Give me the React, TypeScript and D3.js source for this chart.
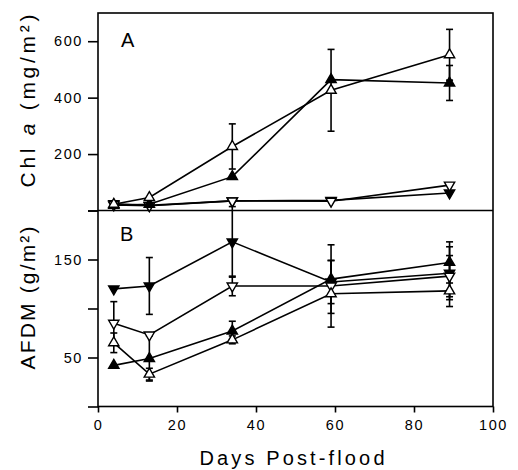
import { useRef, useEffect } from 'react'
import * as d3 from 'd3'

const W = 518
const H = 470

// sampling days (x)
const days = [4, 13, 34, 59, 89]

// panel A: Chl a (mg/m2)
const chlOpenUp = [22, 46, 227, 426, 552]
const chlOpenUpErr = [0, 0, 80, 145, 90]
const chlFilledUp = [18, 22, 120, 464, 452]
const chlFilledUpErr = [0, 0, 0, 0, 62]
const chlFilledDown = [24, 18, 34, 36, 62]
const chlOpenDown = [20, 17, 34, 33, 90]

// panel B: AFDM (g/m2)
const afdmFilledDown = [120, 123, 168, 127, 136]
const afdmFilledDownErr = [0, 29, 36, 22, 27]
const afdmOpenDown = [85, 73, 123, 123, 133]
const afdmOpenDownErr = [22, 0, 10, 0, 21]
const afdmOpenUp = [65, 33, 68, 115, 118]
const afdmOpenUpErr = [10, 6, 4, 34, 16]
const afdmFilledUp = [42, 49, 77, 130, 147]
const afdmFilledUpErr = [0, 23, 10, 35, 21]

const xTicks = [0, 20, 40, 60, 80, 100]
const chlTicks = [0, 200, 400, 600]
const chlLabels = [200, 400, 600]
const afdmTicks = [0, 50, 100, 150, 200]
const afdmLabels = [50, 150]

type Series = { vals: number[]; err: number[]; down: boolean; filled: boolean }

const panelA: Series[] = [
  { vals: chlFilledDown, err: days.map(() => 0), down: true, filled: true },
  { vals: chlOpenDown, err: days.map(() => 0), down: true, filled: false },
  { vals: chlFilledUp, err: chlFilledUpErr, down: false, filled: true },
  { vals: chlOpenUp, err: chlOpenUpErr, down: false, filled: false },
]

const panelB: Series[] = [
  { vals: afdmFilledDown, err: afdmFilledDownErr, down: true, filled: true },
  { vals: afdmOpenDown, err: afdmOpenDownErr, down: true, filled: false },
  { vals: afdmFilledUp, err: afdmFilledUpErr, down: false, filled: true },
  { vals: afdmOpenUp, err: afdmOpenUpErr, down: false, filled: false },
]

const font = '"Liberation Sans", Arial, sans-serif'

const App = () => {
  const svgRef = useRef<SVGSVGElement>(null)

  useEffect(() => {
    const svg = d3.select(svgRef.current)
    svg.selectAll('*').remove()

    const x = d3.scaleLinear().domain([0, 100]).range([98, 493])
    const yA = d3.scaleLinear().domain([0, 700]).range([210.5, 13])
    const yB = d3.scaleLinear().domain([0, 200]).range([406.5, 210.5])

    const drawPanel = (y: d3.ScaleLinear<number, number>, series: Series[]) => {
      const g = svg.append('g')
      const line = d3.line<number>().x((_, i) => x(days[i])).y(v => y(v))
      series.forEach(s => {
        g.append('path')
          .attr('d', line(s.vals))
          .attr('fill', 'none')
          .attr('stroke', '#000')
          .attr('stroke-width', 1.6)
      })
      series.forEach(s => {
        s.vals.forEach((v, i) => {
          if (!s.err[i]) return
          const cx = x(days[i])
          const y1 = y(v + s.err[i])
          const y2 = y(Math.max(0, v - s.err[i]))
          g.append('line').attr('x1', cx).attr('x2', cx).attr('y1', y1).attr('y2', y2)
            .attr('stroke', '#000').attr('stroke-width', 1.6)
          ;[y1, y2].forEach(yy => {
            g.append('line').attr('x1', cx - 3.5).attr('x2', cx + 3.5).attr('y1', yy).attr('y2', yy)
              .attr('stroke', '#000').attr('stroke-width', 1.6)
          })
        })
      })
      const tri = d3.symbol().type(d3.symbolTriangle).size(46)
      series.forEach(s => {
        g.selectAll(null)
          .data(s.vals)
          .join('path')
          .attr('d', tri())
          .attr('transform', (v, i) => `translate(${x(days[i])},${y(v)}) rotate(${s.down ? 180 : 0})`)
          .attr('fill', s.filled ? '#000' : '#fff')
          .attr('stroke', '#000')
          .attr('stroke-width', 1.4)
      })
    }

    drawPanel(yA, panelA)
    drawPanel(yB, panelB)

    // frames
    svg.append('rect').attr('x', 98).attr('y', 13).attr('width', 395).attr('height', 393.5)
      .attr('fill', 'none').attr('stroke', '#000').attr('stroke-width', 1.6)
    svg.append('line').attr('x1', 98).attr('x2', 493).attr('y1', 210.5).attr('y2', 210.5)
      .attr('stroke', '#000').attr('stroke-width', 1.6)

    const styleAxis = (sel: d3.Selection<SVGGElement, unknown, null, undefined>) => {
      sel.select('.domain').remove()
      sel.selectAll('line').attr('stroke', '#000').attr('stroke-width', 1.6)
      sel.selectAll('text')
        .attr('fill', '#000')
        .style('font-family', font)
        .style('font-size', '14.5px')
        .style('letter-spacing', '1.6px')
    }

    const axA = d3.axisLeft(yA).tickValues(chlTicks).tickSize(10).tickPadding(5)
      .tickFormat(d => (chlLabels.includes(+d) ? String(d) : ''))
    svg.append('g').attr('transform', 'translate(98,0)').call(axA).call(styleAxis)

    const axB = d3.axisLeft(yB).tickValues(afdmTicks).tickSize(10).tickPadding(5)
      .tickFormat(d => (afdmLabels.includes(+d) ? String(d) : ''))
    svg.append('g').attr('transform', 'translate(98,0)').call(axB).call(styleAxis)

    const axX = d3.axisBottom(x).tickValues(xTicks).tickSize(6).tickPadding(7)
    svg.append('g').attr('transform', 'translate(0,406.5)').call(axX).call(styleAxis)

    // panel letters
    svg.append('text').attr('x', 121).attr('y', 47).text('A')
      .style('font-family', font).style('font-size', '20px')
    svg.append('text').attr('x', 120).attr('y', 241).text('B')
      .style('font-family', font).style('font-size', '20px')

    // axis titles
    const tA = svg.append('text')
      .attr('transform', 'translate(35,101) rotate(-90)')
      .attr('text-anchor', 'middle')
      .attr('textLength', 173).attr('lengthAdjust', 'spacing')
      .style('font-family', font).style('font-size', '21px')
    tA.append('tspan').text('Chl ')
    tA.append('tspan').text('a').style('font-style', 'italic')
    tA.append('tspan').text(' (mg/m²)')

    svg.append('text')
      .attr('transform', 'translate(35,298) rotate(-90)')
      .attr('text-anchor', 'middle')
      .attr('textLength', 143).attr('lengthAdjust', 'spacing')
      .style('font-family', font).style('font-size', '21px')
      .text('AFDM (g/m²)')

    svg.append('text')
      .attr('x', 292).attr('y', 465)
      .attr('text-anchor', 'middle')
      .attr('textLength', 185).attr('lengthAdjust', 'spacing')
      .style('font-family', font).style('font-size', '20px')
      .text('Days Post-flood')
  }, [])

  return (
    <svg ref={svgRef} width={W} height={H}
      style={{ position: 'absolute', left: 0, top: 0, background: '#fff' }} />
  )
}

export default App
